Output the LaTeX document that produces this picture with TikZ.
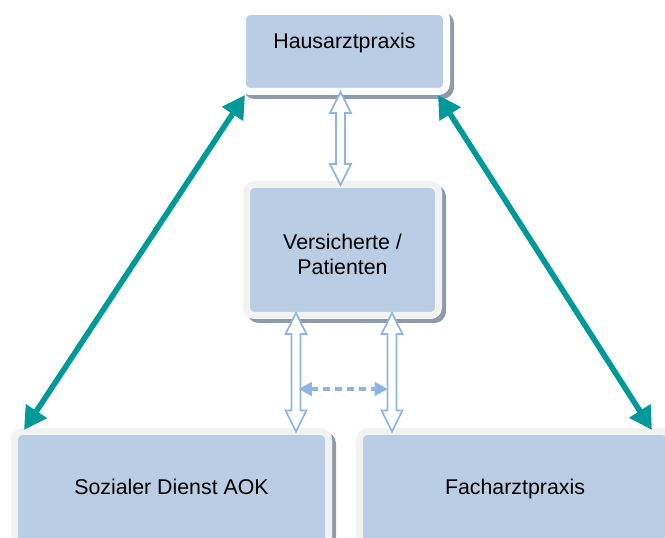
\documentclass[tikz,border=0pt]{standalone}
\usepackage{fontspec}
\setmainfont{Liberation Sans}
\usetikzlibrary{arrows.meta,calc,backgrounds}
\definecolor{boxblue}{RGB}{185,205,229}
\definecolor{framegray}{RGB}{242,242,242}
\definecolor{shadowgray}{RGB}{143,154,170}
\definecolor{linkteal}{RGB}{0,153,153}
\definecolor{arrowblue}{RGB}{141,180,226}

\newcommand{\dblarrow}[2]{%
\draw [hollow] (#1) -- ($(#1)+(10.5,21)$) -- ($(#1)+(4.5,21)$) -- ($(#2)+(4.5,-21)$) -- ($(#2)+(10.5,-21)$) -- (#2) -- ($(#2)+(-10.5,-21)$) -- ($(#2)+(-4.5,-21)$) -- ($(#1)+(-4.5,21)$) -- ($(#1)+(-10.5,21)$) -- cycle ;}

\begin{document}
\begin{tikzpicture}[x=0.75pt,y=0.75pt,yscale=-1,xscale=1,
  panel/.style={rectangle, rounded corners=6pt, fill=boxblue, draw=framegray, line width=5.25pt, inner sep=0pt, outer sep=0pt, align=center, font=\fontsize{16}{18.75}\selectfont, text height=11.5pt, text depth=3.4pt},
  panelshadow/.style={fill=shadowgray, rounded corners=8.6pt},
  link/.style={draw=linkteal, line width=4.2pt, {Triangle[length=17pt,width=18pt]}-{Triangle[length=17pt,width=18pt]}},
  hollow/.style={draw=arrowblue, fill=white, line width=1.3pt, line join=miter},
  dashlink/.style={draw=arrowblue, line width=2.6pt, dash pattern=on 5pt off 4pt, {Triangle[length=10pt,width=10pt]}-{Triangle[length=10pt,width=10pt]}}]

\useasboundingbox (0,0) rectangle (665,538);

\node [panel, draw=white, text depth=15.25pt, minimum width=153pt, minimum height=60pt] (haus) at (344.5,51.5) {Hausarztpraxis};
\node [panel, text height=40pt, text depth=2.5pt, minimum width=144pt, minimum height=98.25pt] (vers) at (342.5,250) {Versicherte /\\Patienten};
\node [panel, minimum width=235.5pt, minimum height=87pt] (sozial) at (171.5,489.5) {Sozialer Dienst AOK};
\node [panel, minimum width=233.25pt, minimum height=87pt] (fach) at (515,489.5) {Facharztpraxis};

\begin{scope}[on background layer]
\foreach \n in {haus,vers,sozial,fach}
  \fill [panelshadow] ($(\n.north west)+(0.5,0.5)$) rectangle ($(\n.south east)+(7.5,7.5)$) ;
\end{scope}

\coordinate (t1) at ($(haus.south)+(-4,0.5)$);
\coordinate (t2) at ($(vers.north)+(-2,0.5)$);
\coordinate (l1) at ($(vers.south)+(-46.5,-2.5)$);
\coordinate (l2) at (l1 |- sozial.north);
\coordinate (r1) at ($(vers.south)+(49.5,-2.5)$);
\coordinate (r2) at (r1 |- fach.north);
\coordinate (d1) at ($(l1)+(2.5,76)$);
\coordinate (d2) at ($(r1)+(-4,76)$);

\dblarrow{t1}{t2}
\dblarrow{l1}{l2}
\dblarrow{r1}{r2}
\draw [dashlink] (d1) -- (d2) ;

\draw [link] ($(haus.south west)+(2.5,3.5)$) -- ($(sozial.north west)+(9.5,-1.5)$) ;
\draw [link] ($(haus.south east)+(-8.5,3.5)$) -- ($(fach.north east)+(-18.5,-1.5)$) ;

\end{tikzpicture}
\end{document}
